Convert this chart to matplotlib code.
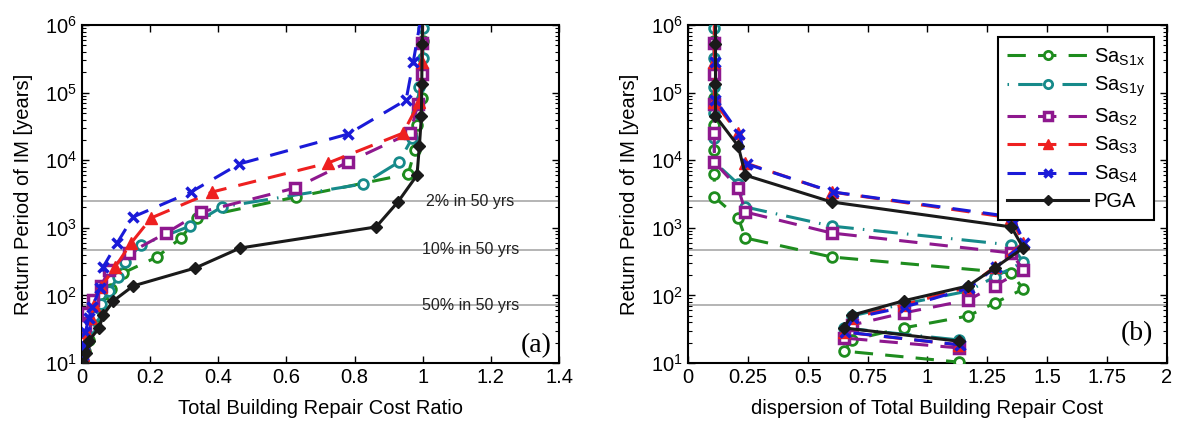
import numpy as np
import matplotlib
matplotlib.use("Agg")
import matplotlib.pyplot as plt

plt.rcParams['font.family'] = ['Liberation Sans', 'DejaVu Sans']
plt.rcParams['mathtext.fontset'] = 'custom'
plt.rcParams['mathtext.rm'] = 'Liberation Sans'
plt.rcParams['mathtext.it'] = 'Liberation Sans:italic'
plt.rcParams['mathtext.bf'] = 'Liberation Sans:bold'

nan = np.nan

# ---------------- data ----------------
# Sa_S1x
t_s1x = [5.8e5, 2.16e5, 8.3e4, 3.32e4, 1.42e4, 6.25e3, 2.86e3, 1.40e3, 706, 370, 214, 124, 77, 49.6, 33, 21.9, 15.0, 10.3]
cost_s1x = [1.0, 0.999, 0.997, 0.983, 0.977, 0.957, 0.628, 0.337, 0.29, 0.22, 0.12, 0.085, 0.066, 0.045, 0.03, 0.02, 0.01, 0.003]
disp_s1x = [0.11, 0.11, 0.11, 0.11, 0.11, 0.11, 0.11, 0.21, 0.24, 0.60, 1.35, 1.40, 1.28, 1.17, 0.90, 0.685, 0.65, 1.13]

# Sa_S1y
t_s1y = [9.0e5, 3.25e5, 1.21e5, 4.99e4, 2.13e4, 9.4e3, 4.45e3, 2.03e3, 1.06e3, 557, 312, 187, 116, 74.6, 49.6, 33, 21.9, 15.0, 10.3]
cost_s1y = [1.0, 1.0, 0.99, 0.983, 0.969, 0.93, 0.825, 0.41, 0.317, 0.173, 0.125, 0.105, 0.08, 0.055, 0.035, 0.022, 0.012, 0.006, 0.002]
disp_s1y = [0.11, 0.11, 0.11, 0.11, 0.11, 0.11, 0.21, 0.24, 0.60, 1.35, 1.40, 1.28, 1.17, 0.90, 0.685, 0.65, 1.13, nan, nan]

# Sa_S2
t_s2 = [5.42e5, 1.88e5, 6.78e4, 2.52e4, 9.4e3, 3.88e3, 1.71e3, 837, 424, 238, 138, 85.5, 54.9, 36.5, 23.4, 16.7, 11.9]
cost_s2 = [0.998, 0.998, 0.986, 0.963, 0.781, 0.625, 0.349, 0.247, 0.138, 0.079, 0.056, 0.032, 0.015, 0.01, 0.006, 0.003, 0.001]
disp_s2 = [0.11, 0.11, 0.11, 0.11, 0.11, 0.21, 0.24, 0.60, 1.35, 1.40, 1.28, 1.17, 0.90, 0.685, 0.65, 1.13, nan]

# Sa_S3
t_s3 = [1.31e6, 2.84e5, 7.26e4, 2.52e4, 9.1e3, 3.39e3, 1.40e3, 596, 263, 133, 72.1, 46.3, 28.7, 18.5, 13.1]
cost_s3 = [1.0, 0.998, 0.99, 0.942, 0.722, 0.382, 0.203, 0.144, 0.097, 0.056, 0.035, 0.025, 0.012, 0.005, 0.002]
disp_s3 = [0.11, 0.11, 0.11, 0.21, 0.24, 0.60, 1.35, 1.40, 1.28, 1.17, 0.90, 0.685, 0.65, 1.13, nan]

# Sa_S4
t_s4 = [1.31e6, 2.84e5, 7.8e4, 2.44e4, 8.8e3, 3.39e3, 1.45e3, 596, 263, 129, 67.3, 46.3, 28.7, 18.5, 13.1]
cost_s4 = [0.995, 0.972, 0.951, 0.781, 0.461, 0.32, 0.15, 0.103, 0.062, 0.053, 0.03, 0.02, 0.01, 0.005, 0.002]
disp_s4 = [0.115, 0.115, 0.115, 0.215, 0.245, 0.605, 1.355, 1.405, 1.285, 1.175, 0.905, 0.69, 0.655, 1.135, nan]

# PGA
t_pga = [1.5e6, 5.2e5, 1.34e5, 4.5e4, 1.62e4, 6.0e3, 2.41e3, 1.03e3, 502, 254, 138, 83, 51, 33, 21, 14, 10]
cost_pga = [1.0, 0.998, 0.997, 0.996, 0.99, 0.983, 0.927, 0.863, 0.464, 0.332, 0.150, 0.092, 0.062, 0.050, 0.019, 0.013, 0.003]
disp_pga = [0.115, 0.115, 0.115, 0.115, 0.21, 0.24, 0.60, 1.35, 1.40, 1.28, 1.17, 0.90, 0.685, 0.65, 1.13, nan, nan]

hazard_periods = [2475, 475, 72]
hazard_labels = ['2% in 50 yrs', '10% in 50 yrs', '50% in 50 yrs']

series_labels = [r'Sa$_{\mathrm{S1x}}$', r'Sa$_{\mathrm{S1y}}$', r'Sa$_{\mathrm{S2}}$',
                 r'Sa$_{\mathrm{S3}}$', r'Sa$_{\mathrm{S4}}$', 'PGA']

# ---------------- styles ----------------
styles = [
    dict(color='#1e8c1e', ls=(0, (6, 4)), marker='o', mfc='white', ms=7, mew=2),
    dict(color='#168a8a', ls=(0, (0.5, 3, 8, 3)), marker='o', mfc='white', ms=7, mew=2),
    dict(color='#8e188e', ls=(0, (6, 4)), marker='s', mfc='white', ms=7, mew=2.5),
    dict(color='#ee2020', ls=(0, (6, 4)), marker='^', mfc='#ee2020', ms=9, mew=1),
    dict(color='#1a1ad8', ls=(0, (6, 4)), marker='x', mfc='#1a1ad8', ms=7, mew=2.5),
    dict(color='#1a1a1a', ls='-', marker='D', mfc='#1a1a1a', ms=6.5, mew=1),
]

T_all = [t_s1x, t_s1y, t_s2, t_s3, t_s4, t_pga]
C_all = [cost_s1x, cost_s1y, cost_s2, cost_s3, cost_s4, cost_pga]
D_all = [disp_s1x, disp_s1y, disp_s2, disp_s3, disp_s4, disp_pga]

fig = plt.figure(figsize=(11.79, 4.25), dpi=100)
axa = fig.add_axes([0.0696, 0.146, 0.4046, 0.795])
axb = fig.add_axes([0.5835, 0.146, 0.4063, 0.795])

for ax in (axa, axb):
    for T in hazard_periods:
        ax.axhline(T, color='#a8a8a8', lw=1.2, zorder=1)

handles = []
for T, C, D, lab, st in zip(T_all, C_all, D_all, series_labels, styles):
    h, = axa.plot(C, T, lw=2.2, color=st['color'], ls=st['ls'], marker=st['marker'],
                  mfc=st['mfc'], mec=st['color'], ms=st['ms'], mew=st['mew'], label=lab, zorder=3)
    axb.plot(D, T, lw=2.2, color=st['color'], ls=st['ls'], marker=st['marker'],
             mfc=st['mfc'], mec=st['color'], ms=st['ms'], mew=st['mew'], label=lab, zorder=3)
    handles.append(h)

for T, lab in zip(hazard_periods, hazard_labels):
    axa.text(1.14, T, lab, ha='center', va='center', fontsize=11.5, color='#222222', zorder=4)

for ax in (axa, axb):
    ax.set_yscale('log')
    ax.set_ylim(10, 1e6)
    ax.tick_params(which='both', direction='in', top=True, right=True, labelsize=14.5)
    ax.tick_params(which='major', length=5, width=1)
    ax.tick_params(which='minor', length=3, width=0.8)
    ax.tick_params(axis='x', which='minor', bottom=False, top=False)
    for sp in ax.spines.values():
        sp.set_linewidth(1.5)
    ax.set_ylabel('Return Period of IM [years]', fontsize=14.5, labelpad=9)

axa.set_xlim(0, 1.4)
axa.set_xticks([0, 0.2, 0.4, 0.6, 0.8, 1.0, 1.2, 1.4])
axa.set_xticklabels(['0', '0.2', '0.4', '0.6', '0.8', '1', '1.2', '1.4'])
axa.set_xlabel('Total Building Repair Cost Ratio', fontsize=14.5, labelpad=9)

axb.set_xlim(0, 2)
axb.set_xticks([0, 0.25, 0.5, 0.75, 1.0, 1.25, 1.5, 1.75, 2.0])
axb.set_xticklabels(['0', '0.25', '0.5', '0.75', '1', '1.25', '1.5', '1.75', '2'])
axb.set_xlabel('dispersion of Total Building Repair Cost', fontsize=14.5, labelpad=9)

axa.text(0.985, 0.033, '(a)', transform=axa.transAxes, ha='right', va='baseline',
         fontsize=20, family='Liberation Serif')
axb.text(0.971, 0.068, '(b)', transform=axb.transAxes, ha='right', va='baseline',
         fontsize=20, family='Liberation Serif')

leg = axb.legend(handles=handles, labels=series_labels, loc='upper right',
                 bbox_to_anchor=(0.973, 0.964), borderaxespad=0, fontsize=14.5, handlelength=4.0,
                 labelspacing=0.36, fancybox=False, framealpha=1, edgecolor='black',
                 borderpad=0.45, handletextpad=0.3, markerscale=0.85)
leg.get_frame().set_linewidth(1.5)

fig.savefig('out.png', dpi=100)
